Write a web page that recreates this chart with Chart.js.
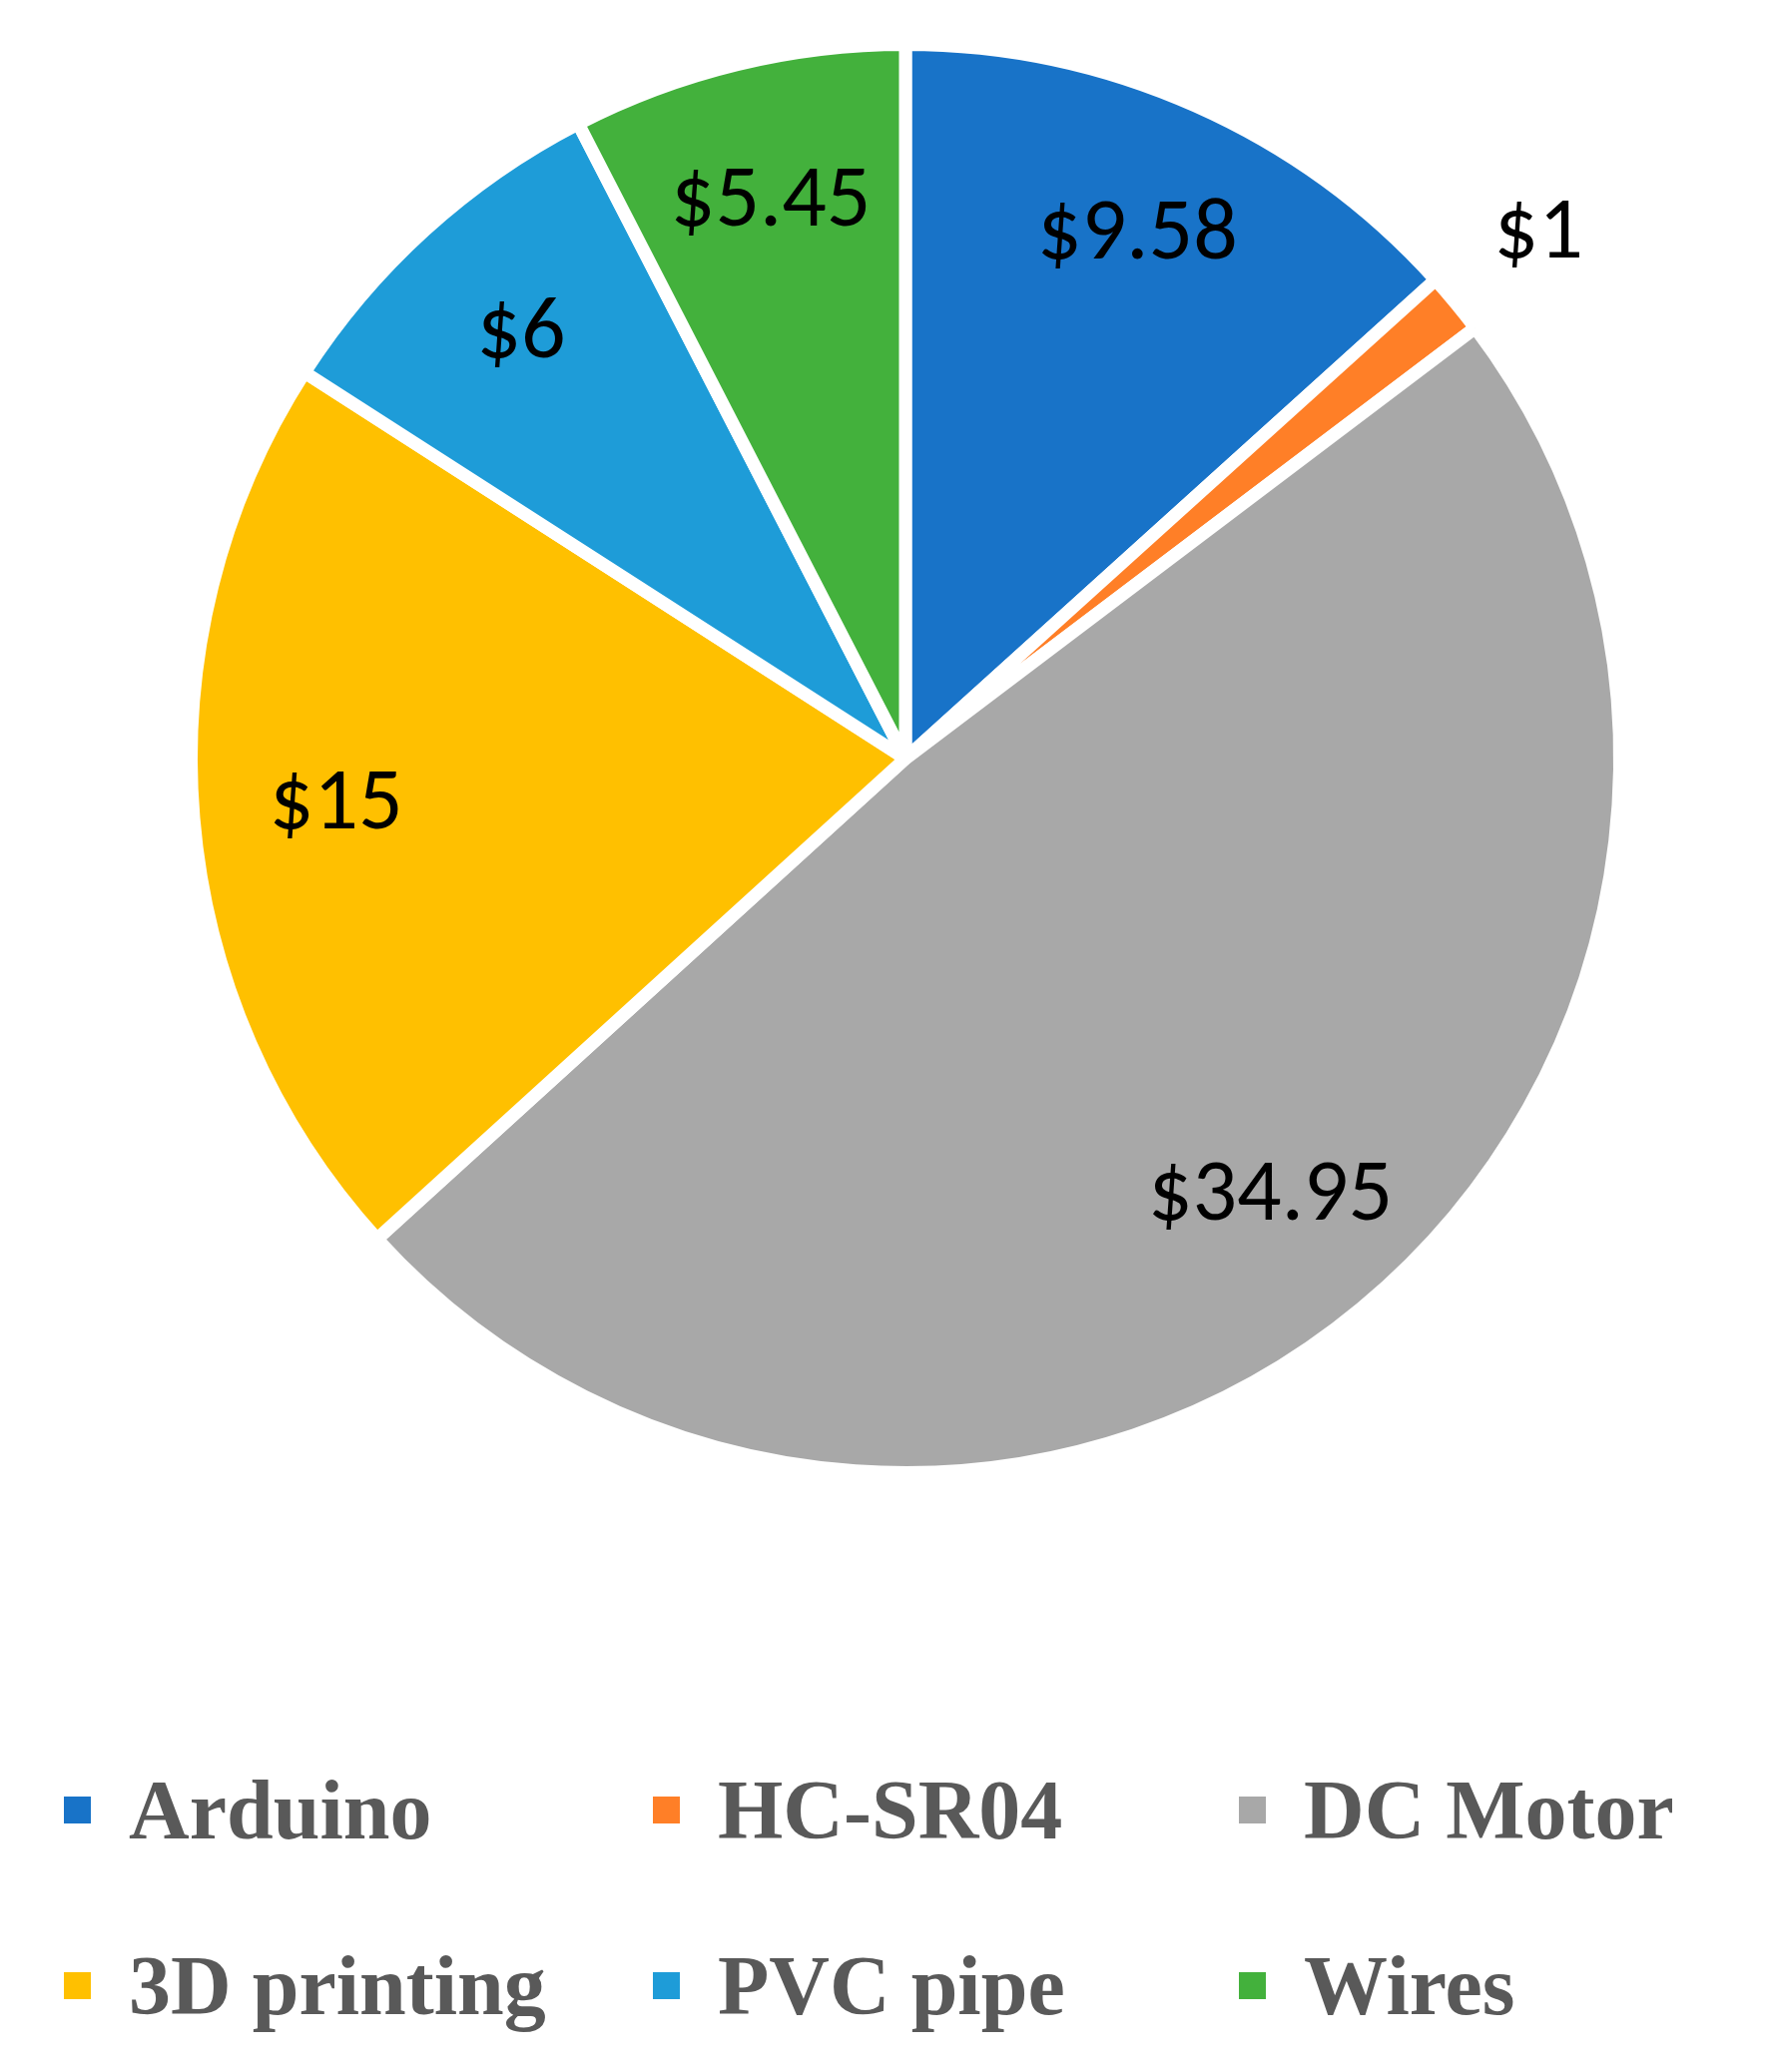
<!DOCTYPE html>
<html>
<head>
<meta charset="utf-8">
<script src="https://cdn.jsdelivr.net/npm/chart.js@4"></script>
<style>
  html, body { margin: 0; padding: 0; background: #fff; }
  #wrap { position: relative; width: 1774px; height: 1520px; }
  #legend {
    position: absolute; top: 1765px; left: 0; width: 1774px;
    font-family: "Liberation Serif", "Times New Roman", serif;
    font-weight: bold; font-size: 84px; color: #595959;
  }
  .item { position: absolute; display: flex; align-items: center; white-space: nowrap; }
  .box { width: 27px; height: 27px; margin-right: 38px; }
</style>
</head>
<body>
<div id="wrap"><canvas id="pie" width="1774" height="1520"></canvas></div>
<div id="legend"></div>
<script>
const labels = ["Arduino", "HC-SR04", "DC Motor", "3D printing", "PVC pipe", "Wires"];
const costs = [9.58, 1, 34.95, 15, 6, 5.45];
const valueText = ["$9.58", "$1", "$34.95", "$15", "$6", "$5.45"];
const colors = ["#1873C8", "#FF7F27", "#A8A8A8", "#FFC000", "#1E9CD8", "#43B13C"];

const sliceLabels = {
  id: "sliceLabels",
  afterDatasetsDraw(chart) {
    const ctx = chart.ctx;
    const arcs = chart.getDatasetMeta(0).data;
    const total = costs.reduce((a, b) => a + b, 0);
    ctx.save();
    ctx.font = "88px Carlito, 'Open Sans', 'DejaVu Sans', sans-serif";
    ctx.fillStyle = "#000";
    ctx.textAlign = "center";
    ctx.textBaseline = "middle";
    arcs.forEach((arc, i) => {
      const mid = (arc.startAngle + arc.endAngle) / 2;
      const f = costs[i] / total < 0.03 ? 1.15 : 0.8;
      const r = arc.outerRadius * f;
      ctx.fillText(valueText[i], arc.x + Math.cos(mid) * r, arc.y + Math.sin(mid) * r);
    });
    ctx.restore();
  }
};

new Chart(document.getElementById("pie"), {
  type: "pie",
  data: {
    labels,
    datasets: [{
      data: costs,
      backgroundColor: colors,
      borderColor: "#fff",
      borderWidth: 13
    }]
  },
  options: {
    responsive: false,
    animation: false,
    layout: { padding: { top: 38, bottom: 38, left: 40, right: 0 } },
    plugins: { legend: { display: false }, tooltip: { enabled: false } }
  },
  plugins: [sliceLabels]
});

const legend = document.getElementById("legend");
const colX = [64, 654, 1241];
labels.forEach((label, i) => {
  const item = document.createElement("div");
  item.className = "item";
  item.style.left = colX[i % 3] + "px";
  item.style.top = (Math.floor(i / 3) * 176) + "px";
  const box = document.createElement("span");
  box.className = "box";
  box.style.background = colors[i];
  const text = document.createElement("span");
  text.textContent = label;
  item.appendChild(box);
  item.appendChild(text);
  legend.appendChild(item);
});
</script>
</body>
</html>
